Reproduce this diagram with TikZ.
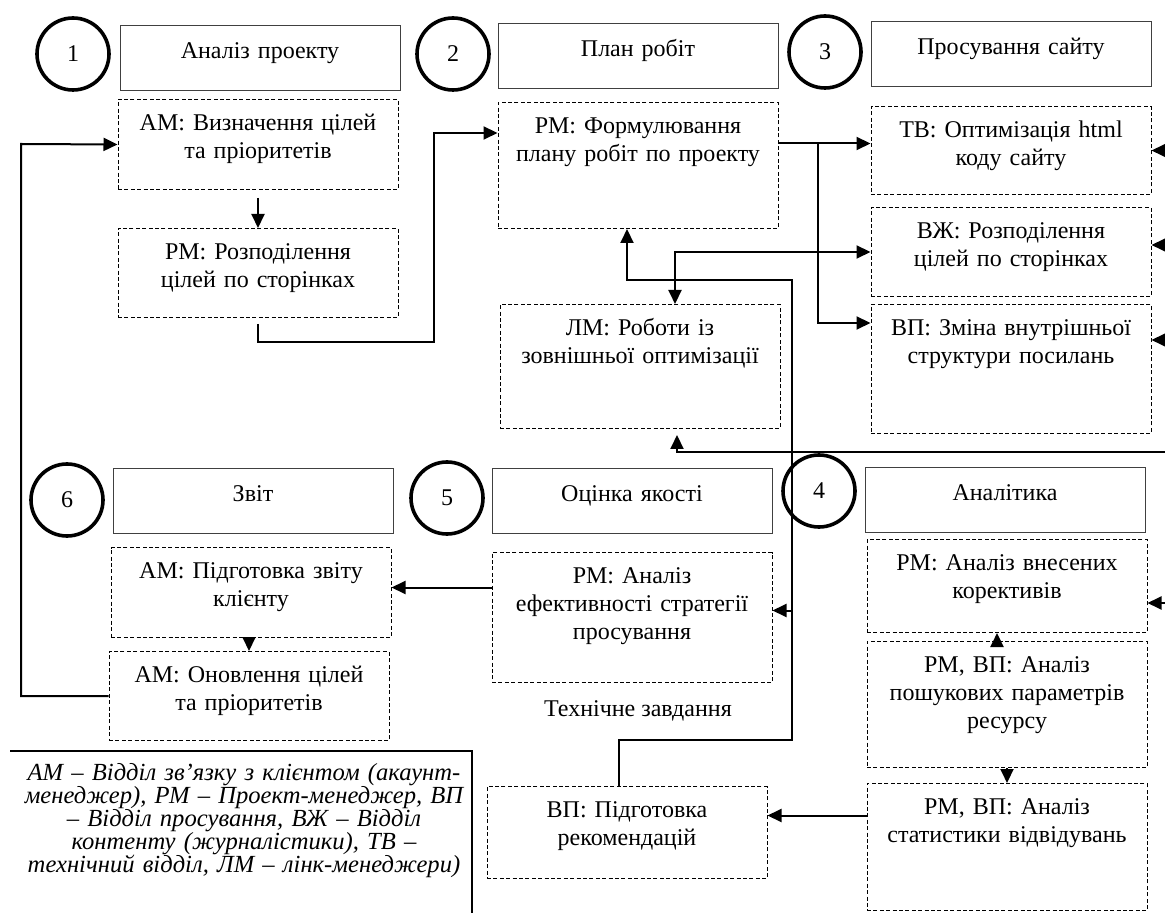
\documentclass[tikz,border=0pt]{standalone}
\usepackage{fontspec}
\setmainfont{Liberation Serif}
\usetikzlibrary{arrows.meta}

\begin{document}
\begin{tikzpicture}[x=0.5pt, y=-0.5pt,
    every node/.style={font=\fontsize{12}{14}\selectfont},
    stage/.style={circle, draw, line width=1.8pt, minimum size=36pt, inner sep=0pt},
    hdbox/.style={draw=black!75, line width=0.5pt, anchor=north, text width=134pt, align=center,
      inner xsep=3pt, inner ysep=4pt, text height=12.5pt, text depth=12pt},
    taskbox/.style={draw, dash pattern=on 2pt off 1.2pt, line width=0.5pt, anchor=north,
      text width=134pt, align=center, inner xsep=3pt, inner ysep=4pt, text height=11.5pt, text depth=#1},
    arr/.style={line width=1pt, -{Triangle[length=7pt, width=6.5pt]}},
    twoway/.style={line width=1pt, {Triangle[length=7pt, width=6.5pt]}-{Triangle[length=7pt, width=6.5pt]}},
    link/.style={line width=1pt},
    keytext/.style={text width=240pt, align=center, font=\fontsize{12.3}{11.5}\selectfont\itshape}]
    \useasboundingbox (0,0) rectangle (1165,913);

    % stage 1
    \node[stage] (st1) at (73,54) {1};
    \node[hdbox] (hd1) at (260,25) {Аналіз проекту};
    \node[taskbox=25.5pt] (am1) at (258,99) {АМ: Визначення цілей\\та пріоритетів};
    \node[taskbox=25pt] (pm1) at (258,228) {РМ: Розподілення\\цілей по сторінках};
    \draw[arr, shorten <=4pt] (am1.south) -- (pm1.north);

    % stage 2
    \node[stage] (st2) at (453,54) {2};
    \node[hdbox] (hd2) at (638,23) {План робіт};
    \node[taskbox=43.5pt] (pm2) at (638,102) {РМ: Формулювання\\плану робіт по проекту};
    \node[taskbox=42.5pt] (lm) at (640,304) {ЛМ: Роботи із\\зовнішньої оптимізації};
    \draw[arr] ([yshift=-3pt]pm1.south) |- (434,342) |- ([yshift=-15.5pt]pm2.north west);

    % stage 3
    \node[stage] (st3) at (825,52) {3};
    \node[hdbox] (hd3) at (1011,21) {Просування сайту};
    \node[taskbox=24.5pt] (tv) at (1011,106) {ТВ: Оптимізація html\\коду сайту};
    \node[taskbox=25pt] (vzh) at (1011,207) {ВЖ: Розподілення\\цілей по сторінках};
    \node[taskbox=45pt] (vp1) at (1011,304) {ВП: Зміна внутрішньої\\структури посилань};
    \draw[arr] ([yshift=3.5pt]tv.west -| pm2.east) -- ([yshift=3.5pt]tv.west);
    \path ([yshift=3.5pt]tv.west -| pm2.east) ++(39,0) coordinate (br1);
    \draw[arr] (br1) |- ([yshift=-9.5pt]vp1.north west);
    \draw[twoway] ([xshift=17.5pt]lm.north) |- (vzh.west);

    % inputs from the right edge
    \coordinate (rim) at (1165,0);
    \draw[arr] (tv.east -| rim) -- (tv.east);
    \draw[arr] ([yshift=3.5pt]vzh.east -| rim) -- ([yshift=3.5pt]vzh.east);
    \draw[arr] ([yshift=14.5pt]vp1.east -| rim) -- ([yshift=14.5pt]vp1.east);
    \coordinate (lmr) at (1165,452);
    \draw[arr] (lmr) -| ([xshift=18.5pt, yshift=-3pt]lm.south);

    % stage 6
    \node[stage] (st6) at (67,500) {6};
    \node[hdbox] (hd6) at (253,468) {Звіт};
    \node[taskbox=25.5pt] (am2) at (251,547) {АМ: Підготовка звіту\\клієнту};
    \node[taskbox=25pt] (am3) at (249,651) {АМ: Оновлення цілей\\та пріоритетів};
    \draw[arr] (am3.north |- am2.south) -- (am3.north);
    \draw[arr] (am3.west) -| (21,144) -- (am1.west);

    % stage 5
    \node[stage] (st5) at (447,498) {5};
    \node[hdbox] (hd5) at (632,468) {Оцінка якості};
    \node[taskbox=45.5pt] (pm3) at (632,552) {РМ: Аналіз\\ефективності стратегії\\просування};
    \draw[arr] ([yshift=2.5pt]pm3.west |- am2.east) -- ([yshift=2.5pt]am2.east);
    \node (tz) at (638,711) {Технічне завдання};
    \node[taskbox=26.5pt] (vp2) at (627,786) {ВП: Підготовка\\рекомендацій};

    % stage 4
    \node[stage] (st4) at (819,491) {4};
    \node[hdbox] (hd4) at (1005,467) {Аналітика};
    \node[taskbox=27pt] (pm4) at (1007,539) {РМ: Аналіз внесених\\корективів};
    \node[taskbox=43.5pt] (pm5) at (1007,641) {РМ, ВП: Аналіз\\пошукових параметрів\\ресурсу};
    \node[taskbox=44pt] (pm6) at (1007,783) {РМ, ВП: Аналіз\\статистики відвідувань};
    \draw[arr] ([xshift=-5pt]pm5.north) -- ([xshift=-5pt]pm4.south);
    \draw[arr] (pm5.south) -- (pm6.north);
    \draw[arr] ([yshift=-8.5pt]pm4.east -| rim) -- ([yshift=-8.5pt]pm4.east);
    \coordinate (vp2in) at ([yshift=8.5pt]vp2.east);
    \draw[arr] (pm6.west |- vp2in) -- (vp2in);

    % feedback bus
    \coordinate (bustop) at (792,280);
    \coordinate (busbot) at (792,740);
    \draw[arr] ([xshift=-4pt]vp2.north) |- (busbot) -- (bustop) -| ([xshift=-5.5pt]pm2.south);
    \draw[arr] ([yshift=3.5pt]pm3.east -| bustop) -- ([yshift=3.5pt]pm3.east);

    % key
    \node[keytext] (key) at (244,821) {АМ – Відділ зв’язку з клієнтом (акаунт-\\менеджер), РМ – Проект-менеджер, ВП\\– Відділ просування, ВЖ – Відділ\\контенту (журналістики), ТВ –\\технічний відділ, ЛМ – лінк-менеджери)};
    \coordinate (kfa) at (10,751);
    \coordinate (kfb) at (472,913);
    \draw[line width=0.6pt] (kfa) -| (kfb);
  \end{tikzpicture}
\end{document}
